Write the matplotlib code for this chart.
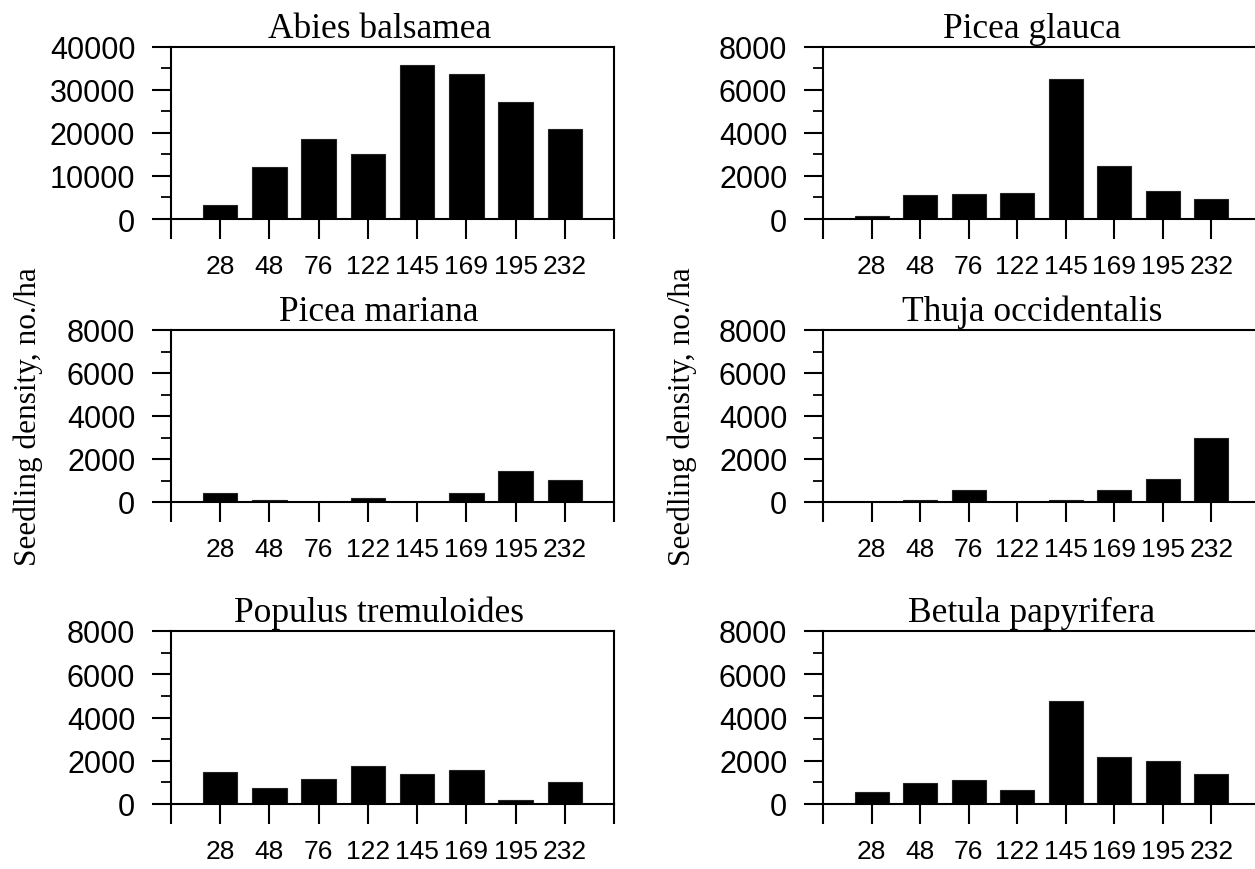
import matplotlib.pyplot as plt
from matplotlib.ticker import MultipleLocator

diameters = ["28", "48", "76", "122", "145", "169", "195", "232"]

abies_balsamea = [3300, 12100, 18600, 15100, 35700, 33700, 27100, 21000]
picea_glauca = [150, 1100, 1150, 1200, 6500, 2450, 1280, 920]
picea_mariana = [440, 90, 15, 170, 0, 410, 1420, 1020]
thuja_occidentalis = [0, 100, 560, 0, 100, 540, 1090, 2980]
populus_tremuloides = [1500, 760, 1150, 1770, 1380, 1590, 170, 1010]
betula_papyrifera = [540, 970, 1120, 630, 4770, 2170, 1990, 1370]

panels = [
    ("Abies balsamea", abies_balsamea, 40000, 10000),
    ("Picea glauca", picea_glauca, 8000, 2000),
    ("Picea mariana", picea_mariana, 8000, 2000),
    ("Thuja occidentalis", thuja_occidentalis, 8000, 2000),
    ("Populus tremuloides", populus_tremuloides, 8000, 2000),
    ("Betula papyrifera", betula_papyrifera, 8000, 2000),
]

serif = "Liberation Serif"
sans = "Liberation Sans"
W, H = 1255, 870

# axes boxes in pixels: left, top, right, zero line
col_x = [(171, 614), (823, 1260)]
row_y = [(47.7, 220), (331, 503), (632, 805)]
title_x = [0.47, 0.478]


def main():
    fig = plt.figure(figsize=(W / 100, H / 100), dpi=100)

    for i, (name, values, ymax, step) in enumerate(panels):
        r, c = divmod(i, 2)
        x0, x1 = col_x[c]
        y0, y1 = row_y[r]
        ax = fig.add_axes([x0 / W, 1 - y1 / H, (x1 - x0) / W, (y1 - y0) / H])

        pos = list(range(1, len(diameters) + 1))
        ax.bar(pos, values, width=0.7, color="black", edgecolor="#222222", linewidth=0.8)

        ax.set_xlim(0, 9)
        ax.set_ylim(0, ymax)
        ax.set_xticks(range(10))
        ax.set_xticklabels([""] + diameters + [""], fontfamily=sans, fontsize=19)
        ax.yaxis.set_major_locator(MultipleLocator(step))
        ax.yaxis.set_minor_locator(MultipleLocator(step / 2))
        for lab in ax.get_yticklabels():
            lab.set_fontfamily(sans)
            lab.set_fontsize(22)

        ax.tick_params(axis="x", direction="out", length=14.4, width=1.5, pad=10.5)
        ax.tick_params(axis="y", which="major", direction="out", length=13.7, width=1.5, pad=12)
        ax.tick_params(axis="y", which="minor", direction="out", length=7.2, width=1.3)
        for sp in ax.spines.values():
            sp.set_linewidth(1.5)

        ax.set_title(name, fontfamily=serif, fontsize=25.5, pad=7, x=title_x[c])

        if r == 1:
            ax.set_ylabel("Seedling density, no./ha", fontfamily=serif, fontsize=22.5)
            ax.yaxis.set_label_coords(-0.289, 0.5)

    fig.savefig("out.png", dpi=100)
    plt.close(fig)


if __name__ == "__main__":
    main()
